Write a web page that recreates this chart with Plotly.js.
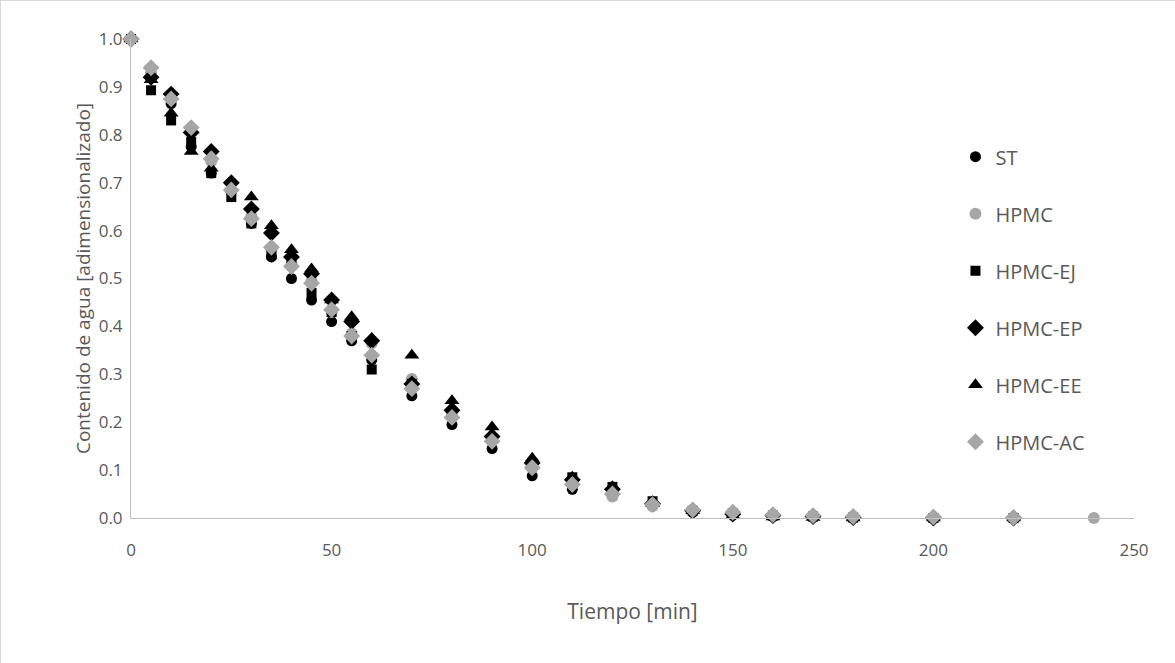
<!DOCTYPE html>
<html>
<head>
<meta charset="utf-8">
<script src="https://cdn.plot.ly/plotly-3.0.1.min.js"></script>
<style>
html,body{margin:0;padding:0;background:#fff;}
#chart{width:1175px;height:663px;box-sizing:border-box;border:1px solid #d9d9d9;}
</style>
</head>
<body>
<div id="chart"></div>
<script>
const tiempo = [0,5,10,15,20,25,30,35,40,45,50,55,60,70,80,90,100,110,120,130,140,150,160,170,180,200,220];
const tiempoHPMC = [0,5,10,15,20,25,30,35,40,45,50,55,60,70,80,90,100,110,120,130,140,150,160,170,180,200,220,240];

const ST      = [1.0,0.92,0.865,0.775,0.72,0.68,0.615,0.545,0.50,0.455,0.41,0.37,0.33,0.255,0.195,0.145,0.088,0.06,0.045,0.025,0.012,0.006,0.003,0.002,0.001,0.0,0.0];
const HPMC    = [1.0,0.93,0.875,0.81,0.745,0.685,0.63,0.56,0.53,0.495,0.43,0.385,0.365,0.29,0.215,0.165,0.105,0.075,0.045,0.025,0.015,0.01,0.006,0.004,0.002,0.001,0.0,0.0];
const HPMC_EJ = [1.0,0.893,0.83,0.785,0.72,0.67,0.615,0.55,0.535,0.47,0.43,0.38,0.31,0.28,0.22,0.165,0.115,0.085,0.065,0.035,0.015,0.01,0.005,0.003,0.001,0.0,0.0];
const HPMC_EP = [1.0,0.92,0.885,0.805,0.765,0.70,0.645,0.595,0.545,0.51,0.455,0.41,0.37,0.28,0.225,0.17,0.115,0.08,0.06,0.03,0.015,0.008,0.005,0.003,0.001,0.0,0.0];
const HPMC_EE = [1.0,0.915,0.845,0.765,0.73,0.69,0.67,0.61,0.56,0.52,0.455,0.42,0.375,0.34,0.245,0.19,0.125,0.085,0.065,0.03,0.015,0.005,0.002,0.001,0.0,0.0,0.0];
const HPMC_AC = [1.0,0.94,0.875,0.815,0.75,0.685,0.625,0.565,0.525,0.49,0.435,0.38,0.34,0.27,0.21,0.16,0.105,0.07,0.05,0.028,0.017,0.012,0.007,0.005,0.003,0.002,0.001];

const names = ['ST','HPMC','HPMC-EJ','HPMC-EP','HPMC-EE','HPMC-AC'];

const black = '#000000', gray = '#a6a6a6';
function tr(name, x, y, symbol, color, size){
  return {type:'scatter', mode:'markers', name:name, x:x, y:y, legendgroup:name, cliponaxis:false,
    marker:{symbol:symbol, color:color, size:size, line:{width:0}}};
}
const data = [
  tr(names[0], tiempo, ST, 'circle', black, 11),
  tr(names[1], tiempoHPMC, HPMC, 'circle', gray, 12),
  tr(names[2], tiempo, HPMC_EJ, 'square', black, 10),
  tr(names[3], tiempo, HPMC_EP, 'diamond', black, 13),
  tr(names[4], tiempo, HPMC_EE, 'triangle-up', black, 13),
  tr(names[5], tiempo, HPMC_AC, 'diamond', gray, 13)
];

const fam = 'Open Sans, Liberation Sans, sans-serif', col = '#595959';
const layout = {
  width:1175, height:663,
  paper_bgcolor:'#ffffff', plot_bgcolor:'#ffffff',
  margin:{l:130, r:42, t:38, b:146},
  font:{family:fam, color:col, size:17},
  showlegend:true,
  legend:{x:0.822, y:0.795, xanchor:'left', yanchor:'top', tracegroupgap:28,
    font:{family:fam, color:col, size:20}, bgcolor:'rgba(0,0,0,0)'},
  xaxis:{range:[0,250], dtick:50, tick0:0, showgrid:false, zeroline:false,
    showline:true, linecolor:'#bfbfbf', linewidth:1, ticks:'', ticklabelstandoff:17,
    tickfont:{family:fam, color:col, size:17},
    title:{text:'Tiempo [min]', font:{family:fam, color:col, size:21}, standoff:43}},
  yaxis:{range:[0,1.0], dtick:0.1, tick0:0, tickformat:'.1f', showgrid:false, zeroline:false,
    showline:true, linecolor:'#bfbfbf', linewidth:1, ticks:'', ticklabelstandoff:4,
    tickfont:{family:fam, color:col, size:17},
    title:{text:'Contenido de agua [adimensionalizado]', font:{family:fam, color:col, size:19}, standoff:3}}
};
Plotly.newPlot('chart', data, layout, {displayModeBar:false, staticPlot:true});
</script>
</body>
</html>
